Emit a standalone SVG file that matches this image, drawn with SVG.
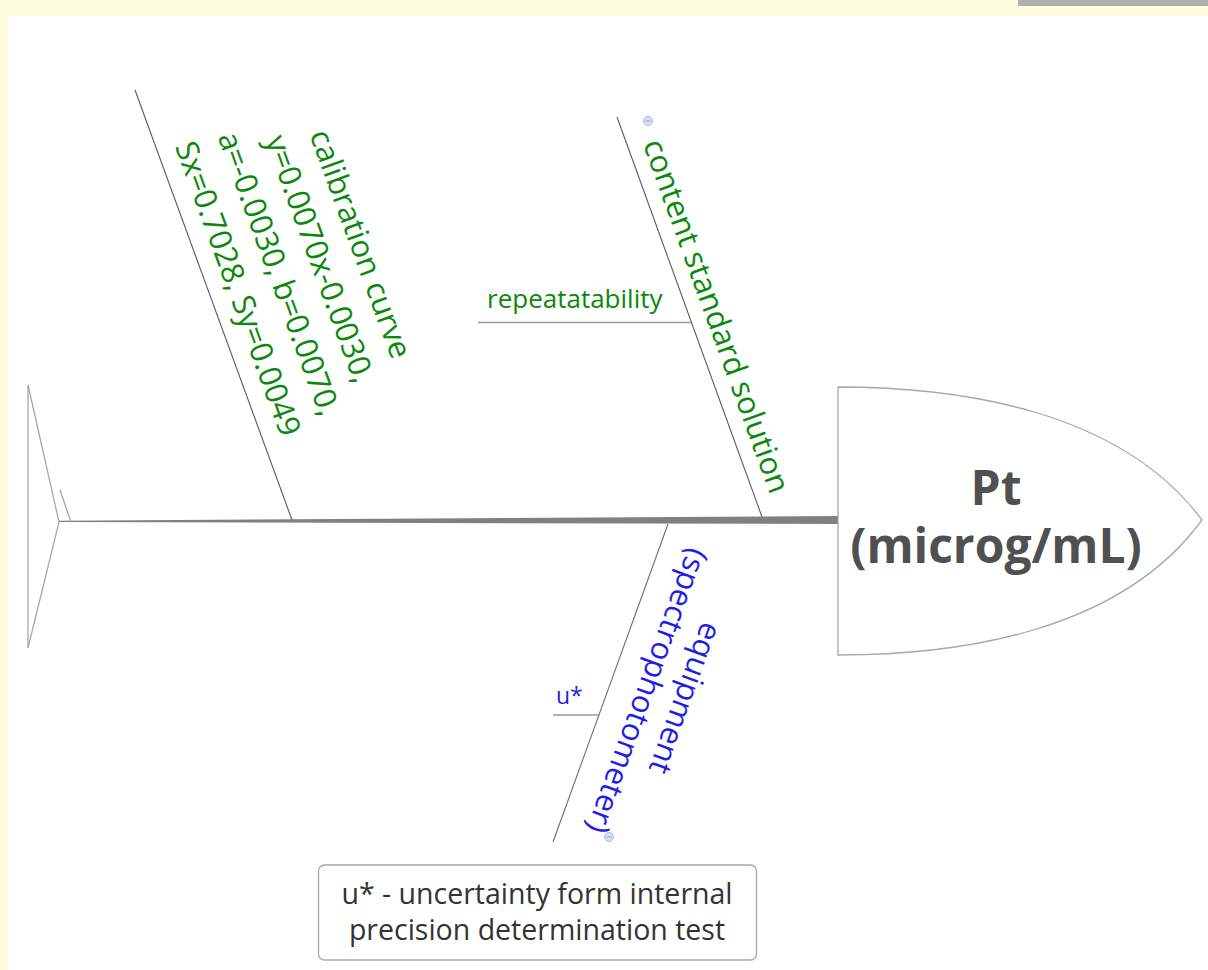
<svg xmlns="http://www.w3.org/2000/svg" width="1208" height="970" viewBox="0 0 1208 970">
  <defs>
    <style>
      .lbl { font-family: "Open Sans", "Noto Sans", "Liberation Sans", sans-serif; }
      .green { fill: #0b890b; font-size: 31px; }
      .blue { fill: #1e1ee6; font-size: 31px; }
      .branch { stroke: #5a5a5a; stroke-width: 1.1; fill: none; }
      .sub { stroke: #9a9a9a; stroke-width: 1.5; fill: none; }
      .outline { stroke: #a8a8a8; stroke-width: 1.3; fill: #ffffff; }
      .collapse { fill: #d6e0f6; stroke: #a9bbe4; stroke-width: 1; }
    </style>
  </defs>

  <!-- background -->
  <rect x="0" y="0" width="1208" height="970" fill="#ffffdf"/>
  <rect x="8" y="16" width="1200" height="954" fill="#ffffff"/>
  <rect x="1018" y="0" width="190" height="6" fill="#b0b0b0"/>

  <!-- connectors -->
  <g id="connectors">
    <polygon points="59,520.8 838,516 838,524 59,522" fill="#808080"/>
    <line class="branch" x1="135" y1="90" x2="292" y2="520"/>
    <line class="branch" x1="617" y1="117" x2="762" y2="517"/>
    <line class="branch" x1="668" y1="524" x2="553" y2="842" style="stroke:#6e6e6e"/>
    <line class="sub" x1="478" y1="322.5" x2="691" y2="322.5"/>
    <line class="sub" x1="553" y1="715" x2="600" y2="715"/>
  </g>

  <!-- tail -->
  <g id="tail">
    <polyline points="28,385 59,522 28,648" fill="none" stroke="#a8a8a8" stroke-width="1.3"/>
    <line x1="28" y1="385" x2="28" y2="648" stroke="#a8a8a8" stroke-width="1.3"/>
    <line x1="60" y1="490" x2="71" y2="522" stroke="#a8a8a8" stroke-width="1.3"/>
  </g>

  <!-- head -->
  <g id="head">
    <path class="outline" d="M838,387 C960,387 1120,410 1202,520 C1120,632 960,655 838,655 Z"/>
    <text class="lbl" text-anchor="middle" font-size="48" font-weight="bold" fill="#505050"><tspan x="996" y="505">Pt</tspan><tspan x="996" y="563">(microg/mL)</tspan></text>
  </g>

  <!-- calibration curve -->
  <g id="calibration" transform="translate(135,90) rotate(69.94)">
    <text class="lbl green" x="222" y="-148.5" text-anchor="middle">calibration curve</text>
    <text class="lbl green" x="222" y="-105" text-anchor="middle">y=0.0070x-0.0030,</text>
    <text class="lbl green" x="222" y="-61.5" text-anchor="middle">a=-0.0030, b=0.0070,</text>
    <text class="lbl green" x="222" y="-18" text-anchor="middle">Sx=0.7028, Sy=0.0049</text>
  </g>

  <!-- content standard solution -->
  <g id="content">
    <g transform="translate(617,117) rotate(70.07)">
      <text class="lbl green" x="221" y="-15" text-anchor="middle">content standard solution</text>
    </g>
    <circle class="collapse" cx="648" cy="121" r="4.5"/>
    <line x1="645.5" y1="121" x2="650.5" y2="121" stroke="#8fa3d6" stroke-width="1"/>
  </g>

  <!-- repeatatability -->
  <g id="repeatability">
    <text class="lbl" x="487" y="308" font-size="26" fill="#0b890b">repeatatability</text>
  </g>

  <!-- equipment -->
  <g id="equipment">
    <g transform="translate(668,524) rotate(109.9)">
      <text class="lbl blue" x="158" y="-65" text-anchor="middle">equipment</text>
      <text class="lbl blue" x="164" y="-27" text-anchor="middle">(spectrophotometer)</text>
    </g>
    <circle class="collapse" cx="609" cy="837" r="4.5"/>
    <line x1="606.5" y1="837" x2="611.5" y2="837" stroke="#8fa3d6" stroke-width="1"/>
  </g>

  <!-- u* -->
  <g id="ustar">
    <text class="lbl" x="556" y="704" font-size="23" fill="#1e1ee6">u*</text>
  </g>

  <!-- legend -->
  <g id="legend">
    <rect x="318.5" y="865" width="438" height="95" rx="6" ry="6" fill="#ffffff" stroke="#a8a8a8" stroke-width="1.3"/>
    <text class="lbl" text-anchor="middle" font-size="28.5" fill="#333333"><tspan x="537" y="904">u* - uncertainty form internal</tspan><tspan x="537" y="940">precision determination test</tspan></text>
  </g>
</svg>
